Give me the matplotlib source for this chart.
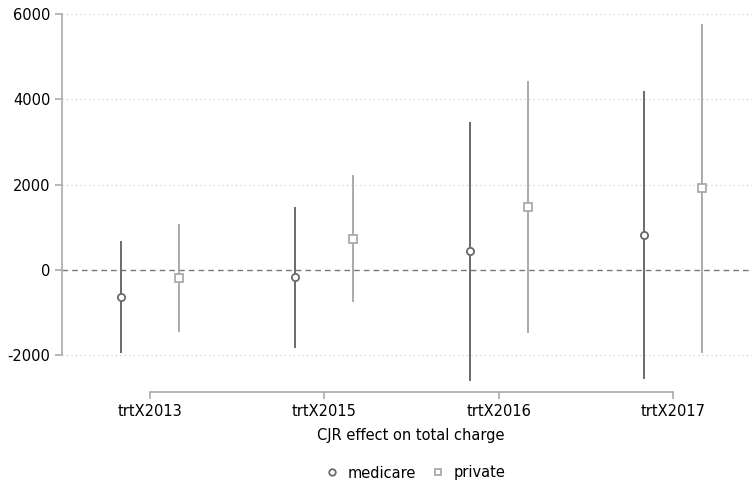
import numpy as np
import matplotlib.pyplot as plt

categories = ["trtX2013", "trtX2015", "trtX2016", "trtX2017"]

medicare_est = [-645, -175, 434, 809]
medicare_lo = [-1958, -1840, -2614, -2567]
medicare_hi = [668, 1465, 3458, 4185]

private_est = [-200, 715, 1465, 1911]
private_lo = [-1465, -762, -1489, -1958]
private_hi = [1067, 2215, 4420, 5756]

yticks = [-2000, 0, 2000, 4000, 6000]

fig = plt.figure(figsize=(7.52, 4.88), dpi=100)
ax = fig.add_axes([62 / 752, 1 - 385 / 488, 690 / 752, 371 / 488])

x = np.arange(len(categories))
off = 0.166
c_med = "#6a6a6a"
c_priv = "#aaaaaa"

# confidence intervals and point estimates
ax.vlines(x - off, medicare_lo, medicare_hi, color=c_med, lw=1.4, zorder=3)
ax.vlines(x + off, private_lo, private_hi, color=c_priv, lw=1.4, zorder=3)
ax.plot(x - off, medicare_est, "o", ms=5.2, mfc="white", mec=c_med, mew=1.3,
        ls="none", label="medicare", zorder=4)
ax.plot(x + off, private_est, "s", ms=5.2, mfc="white", mec=c_priv, mew=1.3,
        ls="none", label="private", zorder=4)

ax.axhline(0, color="#777777", lw=1, ls=(0, (4, 3)), zorder=2)
for yv in [-2000, 2000, 4000, 6000]:
    ax.axhline(yv, color="#c8c8c8", lw=0.8, ls=(0, (1, 3)), zorder=1)

ax.set_xlim(-0.505, 3.453)
ax.set_ylim(-2700, 6000)
ax.set_yticks(yticks)
ax.set_yticklabels([str(v) for v in yticks])
ax.set_xticks(x)
ax.set_xticklabels(categories)

for s in ["top", "right"]:
    ax.spines[s].set_visible(False)
ax.spines["left"].set_bounds(-2000, 6000)
ax.spines["bottom"].set_bounds(0, 3)
ax.spines["bottom"].set_position(("outward", 5))
for s in ["left", "bottom"]:
    ax.spines[s].set_color("#aaaaaa")
    ax.spines[s].set_linewidth(1.2)
ax.tick_params(axis="both", colors="#aaaaaa", labelcolor="black", labelsize=10.5,
               length=5, width=1.2)

ax.set_xlabel("CJR effect on total charge", fontsize=10.5, labelpad=4)
ax.xaxis.set_label_coords((411 - 62) / 690, -0.115)

fig.legend(loc="center", bbox_to_anchor=(415 / 752, 1 - 473 / 488), ncol=2,
           frameon=False, fontsize=10.5, handletextpad=0.6, columnspacing=1.0,
           markerscale=0.9, handlelength=1.0)

fig.savefig("out.png", dpi=100)
